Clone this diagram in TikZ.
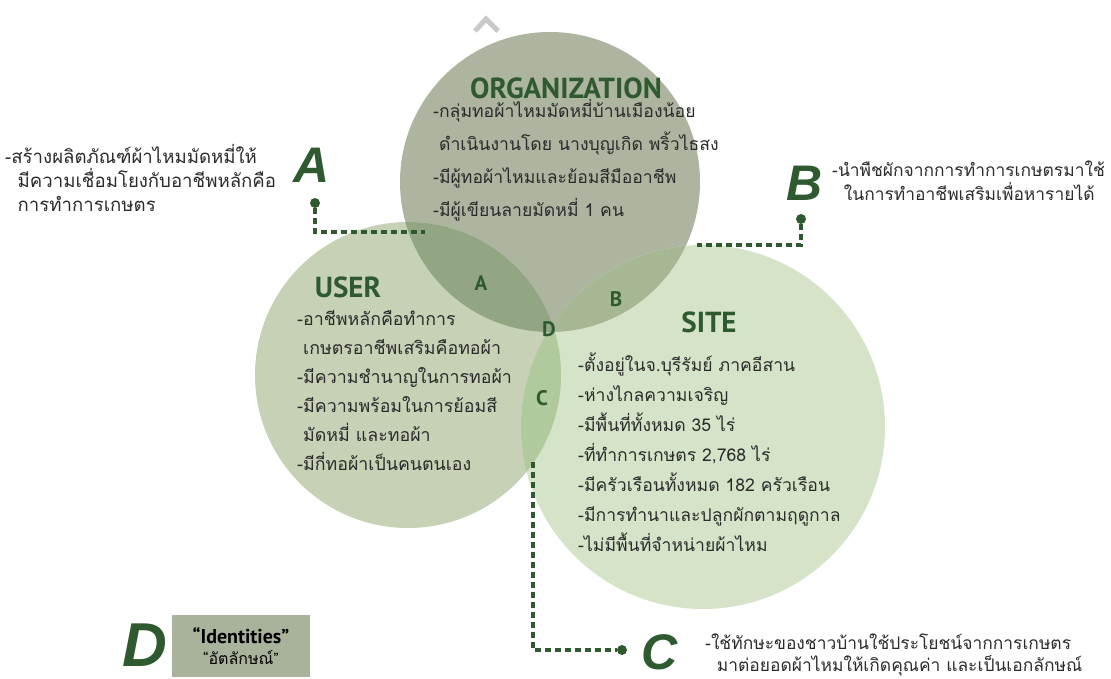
\documentclass[tikz,border=0pt]{standalone}
\usepackage{fontspec}
\setmainfont[Script=Thai]{Loma}
\newfontfamily\headfont{PT Sans}
\newfontfamily\letterfont{Liberation Sans}
\usetikzlibrary{positioning}

\definecolor{leafdark}{HTML}{2F5A2F}
\definecolor{inktext}{HTML}{2B2B2B}
\definecolor{orgfill}{HTML}{ADB49F}
\definecolor{userfill}{HTML}{C6D1B6}
\definecolor{sitefill}{HTML}{D5E4C8}
\definecolor{zonea}{HTML}{92A684}
\definecolor{zoneb}{HTML}{A5B893}
\definecolor{zonec}{HTML}{B0C99D}
\definecolor{zoned}{HTML}{8EA27E}
\definecolor{boxfill}{HTML}{A9B29B}
\definecolor{caretgray}{HTML}{C9C9C9}

\begin{document}
\begin{tikzpicture}[x = 1pt, y = -1pt,
	head/.style = {font = \headfont\bfseries\fontsize{29}{29}\selectfont, text = leafdark, inner sep = 0pt},
	body/.style = {font = \fontsize{17.6}{33}\selectfont, text = inktext, align = left, anchor = north west, inner sep = 0pt},
	note/.style = {font = \fontsize{17.4}{24}\selectfont, text = inktext, align = left, anchor = north west, inner sep = 0pt},
	bigletter/.style = {font = \letterfont\bfseries\itshape\fontsize{50}{50}\selectfont, text = leafdark, inner sep = 0pt},
	zone/.style = {font = \headfont\bfseries\fontsize{21}{21}\selectfont, text = leafdark, inner sep = 0pt},
	link/.style = {leafdark, line width = 3.5pt, dash pattern = on 6pt off 4pt},
	dot/.style = {circle, fill = leafdark, inner sep = 0pt, minimum size = 10pt}]
	\useasboundingbox (0, 0) rectangle (1111, 679);
	\draw [caretgray, line width = 5pt] (475, 31) -- (486, 19) -- (498, 31);
	% three circles
	\fill [orgfill] (550, 182) circle (150pt);
	\fill [userfill] (408, 375) circle (153pt);
	\fill [sitefill] (703, 427) circle (182pt);
	\begin{scope}
		\clip (408, 375) circle (153pt);
		\fill [zonec] (703, 427) circle (182pt);
	\end{scope}
	\begin{scope}
		\clip (550, 182) circle (150pt);
		\fill [zonea] (408, 375) circle (153pt);
		\fill [zoneb] (703, 427) circle (182pt);
		\clip (408, 375) circle (153pt);
		\fill [zoned] (703, 427) circle (182pt);
	\end{scope}
	% headings and lists
	\node [head] (orghead) at (566, 88) {ORGANIZATION};
	\node [body] (orgtext) at (433, 99) {-กลุ่มทอผ้าไหมมัดหมี่บ้านเมืองน้อย\\
		\ ดำเนินงานโดย นางบุญเกิด พริ้วไธสง\\
		-มีผู้ทอผ้าไหมและย้อมสีมืออาชีพ\\
		-มีผู้เขียนลายมัดหมี่ 1 คน};
	\node [head] (userhead) at (348, 287) {USER};
	\node [body, font = \fontsize{17.8}{29}\selectfont] (usertext) at (297, 310) {-อาชีพหลักคือทำการ\\
		\ เกษตรอาชีพเสริมคือทอผ้า\\
		-มีความชำนาญในการทอผ้า\\
		-มีความพร้อมในการย้อมสี\\
		\ มัดหมี่ และทอผ้า\\
		-มีกี่ทอผ้าเป็นคนตนเอง};
	\node [head] (sitehead) at (709, 322) {SITE};
	\node [body, font = \fontsize{17.6}{30}\selectfont] (sitetext) at (578, 353) {-ตั้งอยู่ในจ.บุรีรัมย์ ภาคอีสาน\\
		-ห่างไกลความเจริญ\\
		-มีพื้นที่ทั้งหมด 35 ไร่\\
		-ที่ทำการเกษตร 2,768 ไร่\\
		-มีครัวเรือนทั้งหมด 182 ครัวเรือน\\
		-มีการทำนาและปลูกผักตามฤดูกาล\\
		-ไม่มีพื้นที่จำหน่ายผ้าไหม};
	% overlap letters
	\node [zone] (za) at (481, 283) {A};
	\node [zone] (zb) at (616, 299) {B};
	\node [zone] (zc) at (542, 398) {C};
	\node [zone] (zd) at (549, 329) {D};
	% notes with dotted leaders
	\node [bigletter] (leta) at (312, 165) {A};
	\node [dot] (dota) at (315, 203) {};
	\coordinate (enda) at (425, 232);
	\draw [link] (dota) |- (enda);
	\node [note, font = \fontsize{18.6}{24}\selectfont] (notea) at (5, 144) {-สร้างผลิตภัณฑ์ผ้าไหมมัดหมี่ให้\\
		\ \ มีความเชื่อมโยงกับอาชีพหลักคือ\\
		\ \ การทำการเกษตร};
	\node [bigletter] (letb) at (805, 183) {B};
	\node [dot] (dotb) at (801, 219) {};
	\coordinate (endb) at (697, 245);
	\draw [link] (dotb) |- (endb);
	\node [note] (noteb) at (832, 161) {-นำพืชผักจากการทำการเกษตรมาใช้\\
		\ \ ในการทำอาชีพเสริมเพื่อหารายได้};
	\coordinate (startc) at (533, 462);
	\node [dot] (dotc) at (622, 650) {};
	\draw [link] (startc) |- (dotc);
	\node [bigletter] (letc) at (660, 652) {C};
	\node [note, font = \fontsize{17.4}{21.5}\selectfont] (notec) at (705, 634) {-ใช้ทักษะของชาวบ้านใช้ประโยชน์จากการเกษตร\\
		\ \ มาต่อยอดผ้าไหมให้เกิดคุณค่า และเป็นเอกลักษณ์};
	% identities box
	\node [bigletter, font = \letterfont\bfseries\itshape\fontsize{62}{62}\selectfont] (letd) at (145, 645) {D};
	\node [fill = boxfill, minimum width = 138pt, minimum height = 62pt, inner sep = 0pt, align = center] (idbox) at (241, 646) {{\headfont\bfseries\fontsize{20}{27}\selectfont “Identities”}\\[5pt]
		{\fontsize{16}{20}\selectfont {\headfont“}อัตลักษณ์{\headfont”}}};
\end{tikzpicture}
\end{document}
